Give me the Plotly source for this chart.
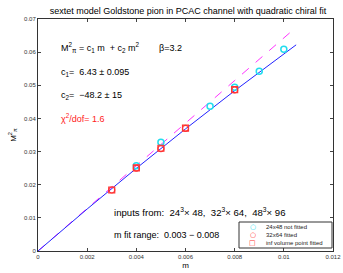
import plotly.graph_objects as go

# data
m_24 = [0.004, 0.005, 0.007, 0.008, 0.009, 0.010]
M2_24 = [0.0257, 0.0328, 0.0437, 0.0494, 0.0542, 0.0609]
m_32 = [0.003, 0.004, 0.005, 0.006, 0.008]
M2_32 = [0.0184, 0.0250, 0.0309, 0.0370, 0.0486]
m_inf = [0.003, 0.004, 0.005, 0.006, 0.008]
M2_inf = [0.0184, 0.0251, 0.0310, 0.0371, 0.0487]
fit_m = [0.0, 0.002, 0.004, 0.006, 0.008, 0.0105]
fit_M2 = [0.0, 0.01267, 0.02495, 0.03684, 0.04836, 0.0622]
lin_m = [0.0, 0.0105]
lin_M2 = [0.0, 0.0675]
x_ticks = [0, 0.002, 0.004, 0.006, 0.008, 0.01, 0.012]
x_ticklabels = ["0", "0.002", "0.004", "0.006", "0.008", "0.01", "0.012"]
y_ticks = [0, 0.01, 0.02, 0.03, 0.04, 0.05, 0.06, 0.07]
y_ticklabels = ["0", "0.01", "0.02", "0.03", "0.04", "0.05", "0.06", "0.07"]
legend_labels = ["24x48 not fitted", "32x64 fitted", "inf volume point fitted"]
legend_glyphs = ["○", "○", "□"]
legend_colors = ["#22ddee", "#ff3333", "#ff3333"]

FONT = "Liberation Sans, Arial, sans-serif"
W, H = 343, 273
L, R, T, B = 38, 10, 19, 22
pw, ph = W - L - R, H - T - B


def px(x):
    return (x - L) / pw


def py(y):
    return 1 - (y - T) / ph


fig = go.Figure()
fig.add_trace(go.Scatter(x=lin_m, y=lin_M2, mode="lines",
                         line=dict(color="#ff33ff", width=1, dash="dash"), showlegend=False))
fig.add_trace(go.Scatter(x=fit_m, y=fit_M2, mode="lines",
                         line=dict(color="#2222ff", width=1), showlegend=False))
fig.add_trace(go.Scatter(x=m_24, y=M2_24, mode="markers", name=legend_labels[0], showlegend=False,
                         marker=dict(symbol="circle-open", color="#22ddee", size=6, line=dict(width=1.5))))
fig.add_trace(go.Scatter(x=m_32, y=M2_32, mode="markers", name=legend_labels[1], showlegend=False,
                         marker=dict(symbol="circle-open", color="#ff3333", size=6, line=dict(width=1.2))))
fig.add_trace(go.Scatter(x=m_inf, y=M2_inf, mode="markers", name=legend_labels[2], showlegend=False,
                         marker=dict(symbol="square-open", color="#ff3333", size=6, line=dict(width=1.2))))

ann = [
    (59, 47, "M<sup>2</sup><sub>π</sub> = c<sub>1</sub> m  + c<sub>2</sub> m<sup>2</sup>        β=3.2", "black", 9),
    (59, 72, "c<sub>1</sub>=  6.43 ± 0.095", "black", 9),
    (59, 95, "c<sub>2</sub>=  −48.2 ± 15", "black", 9),
    (59, 118, "χ<sup>2</sup>/dof= 1.6", "#ff2222", 9),
    (112, 212, "inputs from:  24<sup>3</sup>× 48,  32<sup>3</sup>× 64,  48<sup>3</sup>× 96", "black", 9.6),
    (112, 235, "m fit range:  0.003 − 0.008", "black", 9),
]
annotations = []
for x, y, t, c, s in ann:
    annotations.append(dict(x=px(x), y=py(y), xref="paper", yref="paper",
                            xanchor="left", yanchor="middle", showarrow=False,
                            text=t, font=dict(family=FONT, size=s, color=c)))

# legend drawn manually (compact box)
leg_y = [227, 235, 243]
for i in range(3):
    annotations.append(dict(x=px(253), y=py(leg_y[i]), xref="paper", yref="paper",
                            xanchor="center", yanchor="middle", showarrow=False,
                            text=legend_glyphs[i],
                            font=dict(family="DejaVu Sans", size=7, color=legend_colors[i])))
    annotations.append(dict(x=px(264), y=py(leg_y[i]), xref="paper", yref="paper",
                            xanchor="left", yanchor="middle", showarrow=False,
                            text=legend_labels[i],
                            font=dict(family=FONT, size=6, color="#222222")))

shapes = [dict(type="rect", xref="paper", yref="paper", x0=px(239), x1=px(332),
               y0=py(248), y1=py(222), line=dict(color="#333333", width=1),
               fillcolor="white", layer="above")]

fig.update_layout(
    width=W, height=H, margin=dict(l=L, r=R, t=T, b=B, autoexpand=False),
    autosize=False,
    plot_bgcolor="white", paper_bgcolor="white",
    font=dict(family=FONT, size=6, color="#333333"),
    title=dict(text="sextet model Goldstone pion in PCAC channel with quadratic chiral fit",
               x=188 / W, xanchor="center", xref="container",
               y=1 - 11 / H, yanchor="middle", yref="container",
               font=dict(family=FONT, size=9, color="black")),
    annotations=annotations, shapes=shapes, showlegend=False,
    xaxis=dict(range=[0, 0.012], tickvals=x_ticks, ticktext=x_ticklabels, automargin=False,
               ticks="inside", ticklen=3, mirror="ticks", showline=True, linecolor="#333333",
               linewidth=1, showgrid=False, zeroline=False,
               title=dict(text="m", font=dict(family=FONT, size=8, color="black"), standoff=3)),
    yaxis=dict(range=[0, 0.07], tickvals=y_ticks, ticktext=y_ticklabels, automargin=False,
               ticks="inside", ticklen=3, mirror="ticks", showline=True, linecolor="#333333",
               linewidth=1, showgrid=False, zeroline=False,
               title=dict(text="M<sup>2</sup><sub>π</sub>", font=dict(family=FONT, size=8, color="black"), standoff=6)),
)

fig.write_html("out.html", config={"displayModeBar": False, "responsive": False},
               post_script="document.body.style.margin='0';")
